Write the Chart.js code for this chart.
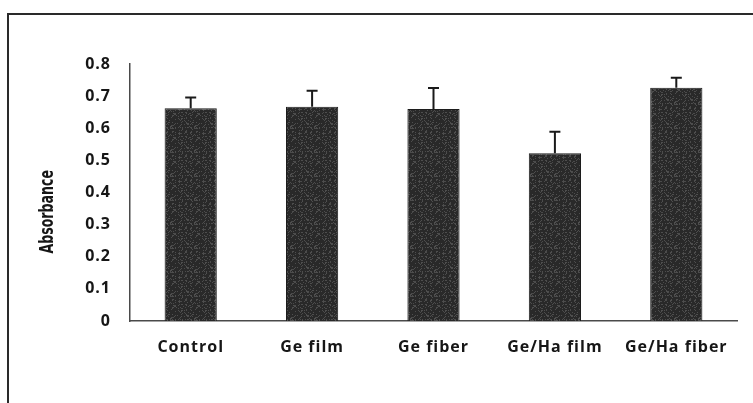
<!DOCTYPE html>
<html>
<head>
<meta charset="utf-8">
<script src="https://cdn.jsdelivr.net/npm/chart.js@4.4.1/dist/chart.umd.min.js"></script>
<style>
  html, body { margin: 0; padding: 0; background: #fff; }
  #wrap { position: relative; width: 753px; height: 403px; overflow: hidden; }
  #frame {
    position: absolute; left: 7px; top: 13px; width: 760px; height: 400px;
    border-left: 2px solid #2a2a2a; border-top: 2px solid #2a2a2a;
  }
  canvas { position: absolute; left: 0; top: 0; }
</style>
</head>
<body>
<div id="wrap">
  <div id="frame"></div>
  <canvas id="myChart" width="753" height="403"></canvas>
</div>
<script>
// values
const categories = ['Control', 'Ge film', 'Ge fiber', 'Ge/Ha film', 'Ge/Ha fiber'];
const absorbance = [0.662, 0.667, 0.660, 0.522, 0.726];
const errors = [0.034, 0.050, 0.065, 0.067, 0.031];
const yTickLabels = ['0', '0.1', '0.2', '0.3', '0.4', '0.5', '0.6', '0.7', '0.8'];
const yTitle = 'Absorbance';

const textColor = '#161616';

// speckled dark fill like the scanned bars (fixed hash, no randomness)
function makeBarPattern() {
    const c = document.createElement('canvas');
    c.width = 24;
    c.height = 24;
    const g = c.getContext('2d');
    g.fillStyle = '#292929';
    g.fillRect(0, 0, 24, 24);
    for (let y = 0; y < 24; y++) {
        for (let x = 0; x < 24; x++) {
            const h = Math.abs(Math.sin(x * 12.9898 + y * 78.233) * 43758.5453) % 1;
            if (h > 0.75) {
                const v = 55 + Math.round(h * 25);
                g.fillStyle = 'rgb(' + v + ',' + v + ',' + v + ')';
                g.fillRect(x, y, 1, 1);
            }
        }
    }
    return g.createPattern(c, 'repeat');
}

// the scan has wide letter spacing, canvas state resets so set it before each draw
const spacingPlugin = {
    id: 'spacing',
    beforeDraw(chart) {
        chart.ctx.letterSpacing = '1px';
    }
};

// upper error bars only, plus the rotated axis title
const errorBarPlugin = {
    id: 'errorBars',
    afterDatasetsDraw(chart) {
        const ctx = chart.ctx;
        const yScale = chart.scales.y;
        const meta = chart.getDatasetMeta(0);
        ctx.save();
        ctx.strokeStyle = '#1a1a1a';
        ctx.lineWidth = 2;
        meta.data.forEach((bar, i) => {
            const x = bar.x;
            const yTop = yScale.getPixelForValue(absorbance[i] + errors[i]);
            const yBar = yScale.getPixelForValue(absorbance[i]);
            ctx.beginPath();
            ctx.moveTo(x, yBar);
            ctx.lineTo(x, yTop);
            ctx.moveTo(x - 5.5, yTop);
            ctx.lineTo(x + 5.5, yTop);
            ctx.stroke();
        });
        ctx.restore();
    },
    afterDraw(chart) {
        const ctx = chart.ctx;
        const yScale = chart.scales.y;
        ctx.save();
        ctx.letterSpacing = '0px';
        ctx.translate(yScale.left + 48, yScale.getPixelForValue(0.34));
        ctx.rotate(-Math.PI / 2);
        // the scan is stretched sideways, so the rotated title is thicker than its font
        ctx.scale(1, 1.35);
        ctx.font = "bold 14px 'DejaVu Sans Condensed', 'Liberation Sans', sans-serif";
        ctx.fillStyle = textColor;
        ctx.textAlign = 'center';
        ctx.textBaseline = 'middle';
        ctx.fillText(yTitle, 0, 0);
        ctx.restore();
    }
};

const ctx = document.getElementById('myChart').getContext('2d');
const myChart = new Chart(ctx, {
    type: 'bar',
    data: {
        labels: categories,
        datasets: [{
            data: absorbance,
            backgroundColor: makeBarPattern(),
            borderColor: '#1c1c1c',
            borderWidth: 1,
            categoryPercentage: 1,
            barPercentage: 0.43
        }]
    },
    options: {
        responsive: false,
        animation: false,
        layout: {
            padding: { left: 0, right: 16, top: 64, bottom: 40 }
        },
        plugins: {
            legend: { display: false },
            tooltip: { enabled: false }
        },
        scales: {
            x: {
                grid: { display: false, drawTicks: false },
                border: { display: true, color: '#4a4a4a', width: 1.5 },
                ticks: {
                    color: textColor,
                    font: { family: 'Open Sans', size: 16, weight: '700' },
                    padding: 17,
                    maxRotation: 0,
                    autoSkip: false
                },
                afterFit(scale) {
                    scale.height = 42;
                }
            },
            y: {
                min: 0,
                max: 0.8,
                grid: { display: false, drawTicks: false },
                border: { display: true, color: '#4a4a4a', width: 1.5 },
                ticks: {
                    stepSize: 0.1,
                    color: textColor,
                    font: { family: 'Open Sans', size: 16, weight: '700' },
                    padding: 19,
                    callback: (value, index) => yTickLabels[index]
                },
                afterFit(scale) {
                    scale.width = 130;
                }
            }
        }
    },
    plugins: [spacingPlugin, errorBarPlugin]
});
</script>
</body>
</html>
